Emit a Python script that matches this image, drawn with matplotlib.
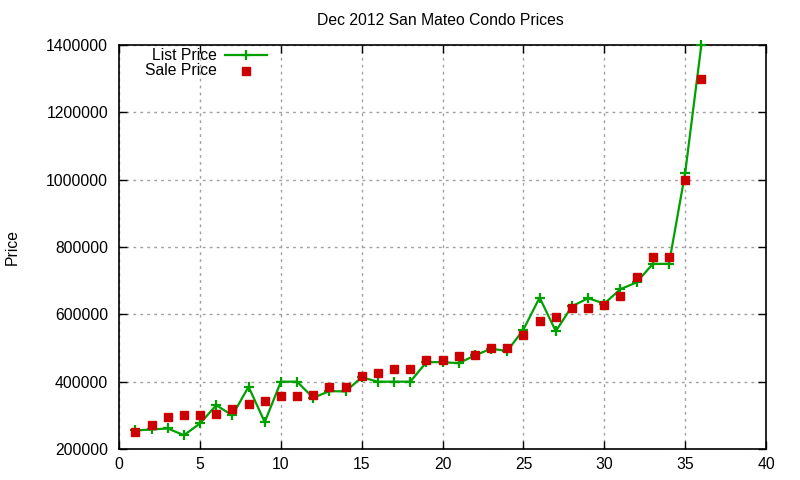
import matplotlib
matplotlib.use("Agg")
import matplotlib.pyplot as plt

# listings, Dec 2012
index = list(range(1, 37))
list_price = [255000, 258000, 261000, 241000, 276000, 330000, 300000, 385000, 280000, 400000,
              400000, 352000, 372000, 371000, 413000, 400000, 400000, 400000, 458000, 458000,
              455000, 478000, 498000, 491000, 555000, 650000, 550000, 624000, 648000, 632000,
              675000, 695000, 750000, 750000, 1020000, 1400000]
sale_price = [250000, 270000, 295000, 301000, 301000, 304000, 319000, 334000, 343000, 357000,
              357000, 359000, 385000, 385000, 417000, 426000, 438000, 438000, 465000, 465000,
              477000, 480000, 500000, 500000, 540000, 581000, 593000, 620000, 619000, 627000,
              655000, 710000, 770000, 770000, 1000000, 1300000]

x_ticks = [0, 5, 10, 15, 20, 25, 30, 35, 40]
y_ticks = [200000, 400000, 600000, 800000, 1000000, 1200000, 1400000]

plt.rcParams['font.family'] = ['Liberation Sans', 'DejaVu Sans']
plt.rcParams['font.size'] = 11.3

green = '#00a000'
red = '#cc0000'

fig = plt.figure(figsize=(8, 4.8), dpi=100)
ax = fig.add_axes([0.149, 0.0646, 0.8085, 0.8414])

ax.plot(index, list_price, color=green, lw=1.6, marker='+', ms=7, mew=1.6,
        zorder=3, clip_on=False)
ax.plot(index, sale_price, ls='none', color=red, marker='s', ms=6,
        zorder=4, clip_on=False)

ax.set_xlim(0, 40)
ax.set_ylim(200000, 1400000)
ax.set_xticks(x_ticks)
ax.set_yticks(y_ticks)
ax.set_xticklabels([str(t) for t in x_ticks])
ax.set_yticklabels([str(t) for t in y_ticks])
ax.tick_params(direction='in', length=6, width=1, top=True, right=True)
ax.tick_params(axis='y', pad=8)
ax.tick_params(axis='x', pad=6)
ax.grid(True, color='#a0a0a0', ls=(0, (2, 3)), lw=1)
for s in ax.spines.values():
    s.set_linewidth(1.2)

ax.set_ylabel('Price', va='center')
ax.yaxis.set_label_coords(-0.165, 0.5)
fig.text(0.551, 0.957, 'Dec 2012 San Mateo Condo Prices', ha='center', va='center')

# gnuplot-style key: right-aligned text, sample to the right
ax.text(0.1515, 0.975, 'List Price', ha='right', va='center', transform=ax.transAxes)
ax.plot([0.164, 0.229], [0.975, 0.975], color=green, lw=1.6, transform=ax.transAxes,
        clip_on=False)
ax.plot([0.196], [0.975], color=green, marker='+', ms=7, mew=1.6, transform=ax.transAxes,
        clip_on=False)
ax.text(0.1515, 0.936, 'Sale Price', ha='right', va='center', transform=ax.transAxes)
ax.plot([0.196], [0.936], color=red, marker='s', ms=6, ls='none',
        transform=ax.transAxes, clip_on=False)

fig.savefig('out.png', dpi=100)
